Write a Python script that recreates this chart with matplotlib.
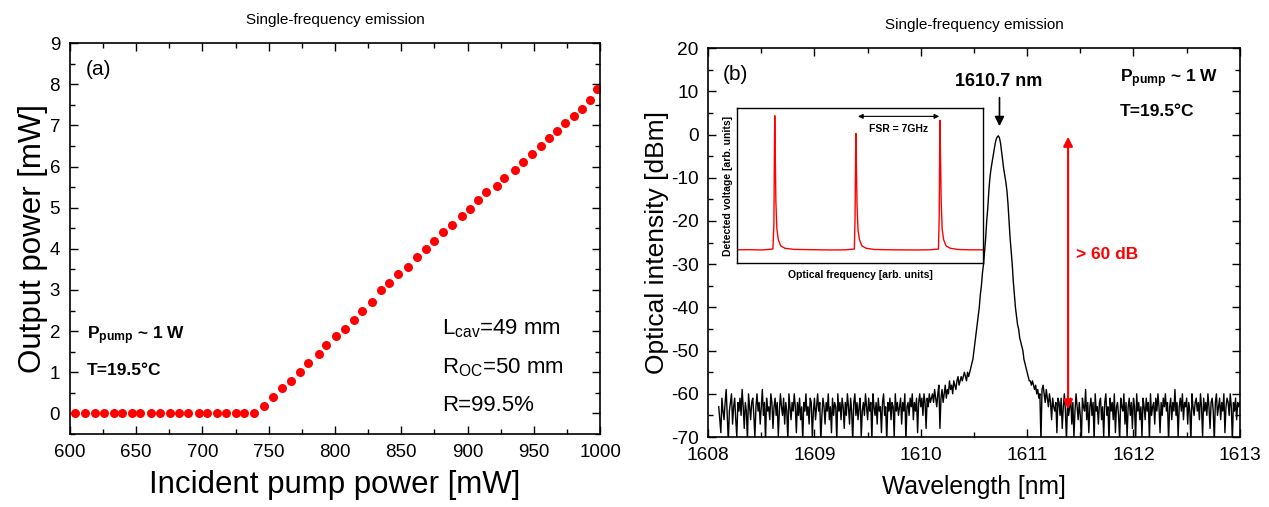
import numpy as np
import matplotlib.pyplot as plt

plt.rcParams['font.family'] = ['Liberation Sans', 'DejaVu Sans']
plt.rcParams['mathtext.fontset'] = 'custom'
plt.rcParams['mathtext.rm'] = 'Liberation Sans'
plt.rcParams['mathtext.bf'] = 'Liberation Sans:bold'
plt.rcParams['mathtext.it'] = 'Liberation Sans:italic'
plt.rcParams['axes.unicode_minus'] = False

# (a) output power vs incident pump power
pump_mw = [604, 611.7, 618.8, 625.8, 633.5, 639.7, 647, 652.9, 661.2, 668.3,
           675.7, 682.5, 689.5, 697.2, 703.7, 711, 717.8, 725.5, 731.7, 739.1,
           746.2, 752.9, 760, 766.8, 773.8, 780, 787.7, 793.2, 800.6, 807.7,
           814.2, 820.6, 827.7, 835, 840.6, 847.7, 855.4, 861.8, 868.9, 875,
           881.8, 888, 895.4, 901.5, 907.7, 913.8, 921.8, 927.4, 935.4, 941.5,
           948.9, 955.4, 961.2, 967.4, 973.5, 980, 986.2, 992.3, 997.8]
out_mw = [0, 0, 0, 0, 0, 0, 0, 0, 0, 0,
          0, 0, 0, 0, 0, 0, 0, 0, 0, 0,
          0.19, 0.40, 0.61, 0.80, 1.01, 1.22, 1.44, 1.66, 1.87, 2.05,
          2.28, 2.49, 2.71, 3.0, 3.18, 3.39, 3.57, 3.79, 3.99, 4.19,
          4.40, 4.59, 4.81, 4.98, 5.19, 5.37, 5.53, 5.73, 5.92, 6.11,
          6.30, 6.49, 6.69, 6.86, 7.05, 7.24, 7.41, 7.62, 7.88]

# (b) optical spectrum, one value every 0.01 nm starting at 1608.10 nm
spec_dbm = [
    # 1608.10 - 1610.09
    -63, -66, -69, -61, -64, -66, -62, -59, -65, -71,
    -64, -62, -60, -67, -63, -61, -66, -70, -62, -64,
    -61, -65, -59, -63, -68, -62, -64, -71, -60, -63,
    -66, -62, -61, -65, -70, -63, -60, -64, -62, -67,
    -63, -59, -65, -62, -71, -61, -64, -63, -66, -60,
    -62, -68, -63, -61, -65, -62, -70, -64, -60, -63,
    -65, -61, -67, -62, -64, -71, -60, -63, -66, -62,
    -64, -60, -63, -69, -62, -65, -61, -66, -63, -71,
    -62, -64, -60, -65, -63, -67, -61, -62, -70, -64,
    -61, -66, -63, -60, -64, -62, -71, -65, -61, -63,
    -67, -62, -64, -60, -66, -63, -69, -61, -65, -62,
    -63, -71, -60, -64, -62, -66, -61, -63, -68, -62,
    -65, -60, -63, -67, -61, -64, -71, -62, -60, -65,
    -62, -66, -63, -61, -70, -64, -62, -65, -60, -63,
    -66, -61, -64, -62, -71, -60, -63, -65, -62, -67,
    -61, -64, -63, -69, -62, -60, -65, -63, -71, -62,
    -64, -61, -66, -62, -63, -70, -60, -64, -62, -65,
    -63, -61, -67, -62, -64, -60, -71, -63, -62, -65,
    -61, -63, -60, -66, -62, -64, -61, -69, -62, -60,
    -63, -61, -65, -60, -62, -68, -61, -63, -60, -62,
    # 1610.10 - 1610.47, rising shoulder
    -61, -60, -62, -59, -61, -63, -60, -58, -68, -61,
    -59, -62, -60, -58, -61, -59, -60, -57, -59, -58,
    -60, -57, -58, -59, -57, -56, -58, -57, -56, -57,
    -56, -55, -56, -57, -55, -56, -55, -54,
    # 1610.48 - 1611.05, main peak
    -53, -52, -50, -48, -46, -44, -42, -40, -37, -35,
    -32, -30, -27, -24, -20, -17, -13, -10, -8, -6.5,
    -5, -3.5, -2, -1, -0.5, -0.3, -0.8, -2, -4, -6,
    -8, -9.5, -11, -13, -16, -20, -24, -27, -30, -34,
    -37, -40, -42, -44, -45, -47, -48, -49, -50, -52,
    -53, -54, -55, -56, -57, -57, -58, -57,
    # 1611.06 - 1611.29, falling shoulder
    -58, -59, -58, -60, -59, -61, -60, -71, -59, -58,
    -60, -62, -59, -61, -63, -60, -62, -66, -61, -63,
    -64, -62, -69, -61,
    # 1611.30 - 1613.00
    -62, -65, -61, -68, -63, -60, -64, -71, -62, -65,
    -63, -61, -67, -62, -70, -64, -60, -63, -66, -62,
    -65, -71, -61, -63, -64, -59, -66, -62, -69, -63,
    -61, -65, -62, -71, -60, -64, -63, -67, -62, -61,
    -66, -63, -70, -62, -60, -65, -63, -71, -61, -64,
    -62, -66, -60, -69, -63, -62, -65, -71, -61, -63,
    -64, -60, -67, -62, -70, -63, -61, -65, -62, -68,
    -61, -63, -71, -60, -64, -62, -66, -63, -70, -61,
    -63, -66, -61, -64, -62, -71, -60, -65, -63, -62,
    -67, -61, -64, -60, -63, -69, -62, -65, -61, -63,
    -60, -64, -62, -71, -63, -61, -66, -62, -64, -59,
    -65, -62, -70, -63, -61, -64, -60, -66, -62, -63,
    -61, -67, -62, -64, -71, -60, -63, -65, -62, -61,
    -64, -62, -66, -60, -63, -70, -61, -64, -62, -65,
    -60, -63, -68, -62, -61, -64, -71, -62, -60, -65,
    -63, -61, -66, -62, -64, -60, -69, -63, -61, -62,
    -65, -60, -63, -71, -62, -64, -61, -66, -62, -63,
    -62]
wl_nm = np.round(1608.10 + 0.01 * np.arange(len(spec_dbm)), 2)

# inset: Fabry-Perot scan
inset_freq = [0, 5, 10, 14.6, 15.0, 15.2, 15.35, 15.5, 15.8, 16.2, 16.8, 17.8, 19.5, 23,
              30, 38, 44, 47.7, 48.0, 48.2, 48.35, 48.5, 48.8, 49.2, 49.8, 50.8, 52.5, 56,
              64, 72, 78, 81.9, 82.2, 82.4, 82.55, 82.7, 83.0, 83.4, 84.0, 85.0, 86.7, 90,
              95, 100]
inset_volt = [0.085, 0.086, 0.084, 0.09, 0.25, 0.7, 0.95, 0.75, 0.4, 0.22, 0.15, 0.11, 0.095, 0.088,
              0.086, 0.084, 0.085, 0.09, 0.3, 0.7, 0.835, 0.65, 0.37, 0.21, 0.15, 0.11, 0.095, 0.087,
              0.085, 0.084, 0.085, 0.09, 0.3, 0.75, 0.92, 0.72, 0.4, 0.22, 0.15, 0.11, 0.095, 0.087,
              0.085, 0.085]

fig = plt.figure(figsize=(12.69, 5.07), dpi=100)
ax1 = fig.add_axes([0.055, 0.144, 0.418, 0.771])
ax2 = fig.add_axes([0.558, 0.138, 0.419, 0.767])

for ax in (ax1, ax2):
    ax.minorticks_on()
    ax.tick_params(which='both', direction='in', top=True, right=True, width=1.0)
    ax.tick_params(which='major', length=6, pad=7)
    ax.tick_params(which='minor', length=3.5)
    for s in ax.spines.values():
        s.set_linewidth(1.2)
    ax.set_title("Single-frequency emission", fontsize=11, pad=14)

# panel a
ax1.plot(pump_mw, out_mw, 'o', color='red', markersize=6.5, markeredgewidth=0)
ax1.set_xlim(600, 1000)
ax1.set_ylim(-0.5, 9)
ax1.set_xticks(np.arange(600, 1001, 50))
ax1.set_yticks(np.arange(0, 10, 1))
ax1.set_xticks(np.arange(600, 1001, 25), minor=True)
ax1.set_yticks(np.arange(-0.5, 9.01, 0.5), minor=True)
ax1.tick_params(labelsize=13.5)
ax1.set_xlabel("Incident pump power [mW]", fontsize=22.5, labelpad=7)
ax1.set_ylabel("Output power [mW]", fontsize=22.5, labelpad=1)
ax1.text(612, 8.35, "(a)", fontsize=15, va='center')
ax1.text(613, 1.9, r"$\mathbf{P_{pump}}$ ~ 1 W", fontsize=12.5, fontweight='bold', va='center')
ax1.text(613, 1.05, "T=19.5°C", fontsize=12.5, fontweight='bold', va='center')
ax1.text(881, 2.07, r"L$_{\mathrm{cav}}$=49 mm", fontsize=16, va='center')
ax1.text(881, 1.12, r"R$_{\mathrm{OC}}$=50 mm", fontsize=16, va='center')
ax1.text(881, 0.2, "R=99.5%", fontsize=16, va='center')

# panel b
ax2.plot(wl_nm, spec_dbm, color='black', linewidth=1.0)
ax2.set_xlim(1608, 1613)
ax2.set_ylim(-70, 20)
ax2.set_xticks(np.arange(1608, 1614, 1))
ax2.set_xticks(np.arange(1608, 1613.01, 0.5), minor=True)
ax2.set_yticks(np.arange(-70, 21, 10))
ax2.set_yticks(np.arange(-70, 21, 5), minor=True)
ax2.tick_params(labelsize=13.8)
ax2.set_xlabel("Wavelength [nm]", fontsize=17.7, labelpad=8)
ax2.set_ylabel("Optical intensity [dBm]", fontsize=19, labelpad=1)
ax2.text(1608.14, 14, "(b)", fontsize=15, va='center')
ax2.text(1610.73, 12.2, "1610.7 nm", fontsize=13, fontweight='bold', ha='center', va='center')
ax2.annotate("", xy=(1610.74, 1.3), xytext=(1610.74, 9.2),
             arrowprops=dict(arrowstyle='-|>', color='black', lw=1.2, mutation_scale=14))
ax2.text(1611.87, 13, r"$\mathbf{P_{pump}}$ ~ 1 W", fontsize=12.5, fontweight='bold', va='center')
ax2.text(1611.87, 5.3, "T=19.5°C", fontsize=12.5, fontweight='bold', va='center')
ax2.annotate("", xy=(1611.385, -0.5), xytext=(1611.385, -63.6),
             arrowprops=dict(arrowstyle='<|-|>', color='red', lw=1.5, mutation_scale=14,
                             shrinkA=0, shrinkB=0))
ax2.text(1611.46, -27.7, "> 60 dB", fontsize=12.5, fontweight='bold', color='red', va='center')

# inset
axi = fig.add_axes([737 / 1269, 1 - 263 / 507, 246 / 1269, 155 / 507])
axi.plot(inset_freq, inset_volt, color='red', linewidth=1.0)
axi.set_xlim(0, 100)
axi.set_ylim(0, 1)
axi.set_xticks([])
axi.set_yticks([])
for s in axi.spines.values():
    s.set_linewidth(1.0)
axi.set_xlabel("Optical frequency [arb. units]", fontsize=7.5, fontweight='bold', labelpad=5)
axi.set_ylabel("Detected voltage [arb. units]", fontsize=7.5, fontweight='bold', labelpad=3)
axi.annotate("", xy=(49.2, 0.946), xytext=(82.2, 0.946),
             arrowprops=dict(arrowstyle='<|-|>', color='black', lw=0.8, mutation_scale=7,
                             shrinkA=0, shrinkB=0))
axi.text(65.5, 0.865, "FSR = 7GHz", fontsize=7.5, fontweight='bold', ha='center', va='center')

fig.savefig('out.png', dpi=100)
